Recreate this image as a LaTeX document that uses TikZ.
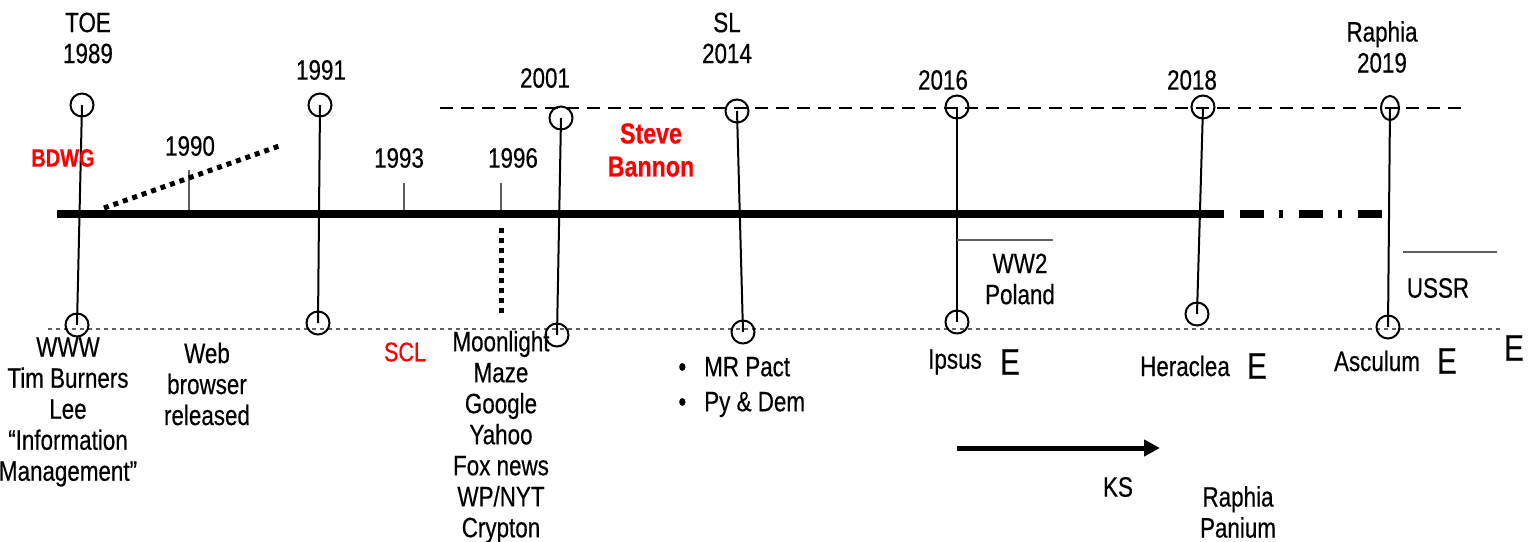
\documentclass[tikz,border=0pt]{standalone}
\usepackage{fontspec}
\setmainfont{Liberation Sans}[FakeStretch=0.8, FakeBold=0.4]
\usepackage{tikz}
\usetikzlibrary{arrows.meta, shapes.geometric}
\definecolor{hotred}{RGB}{255,0,0}
\definecolor{rulegray}{RGB}{95,95,95}

\begin{document}
\begin{tikzpicture}[x=0.5pt, y=-0.5pt,
  lbl/.style={font=\fontsize{14}{15.5}\selectfont, align=center, inner sep=0pt},
  redlbl/.style={lbl, text=hotred},
  bigE/.style={font=\fontsize{18.5}{20}\selectfont, inner sep=0pt},
  ring/.style={draw, circle, line width=1pt, minimum size=11.5pt, inner sep=0pt},
  stem/.style={line width=1pt},
  tick/.style={rulegray, line width=0.6pt},
  sqdots/.style={line width=2.5pt, dash pattern=on 2.5pt off 2.5pt}]
  \useasboundingbox (0,0) rectangle (1537,541);

  % guide lines
  \coordinate (up0) at (440,108);  \coordinate (up1) at (1462,108);
  \coordinate (lo0) at (48,329);   \coordinate (lo1) at (1500,329);
  \coordinate (ml0) at (57,214);   \coordinate (ml1) at (1220,214);
  \coordinate (ml2) at (1383,214);
  \draw[line width=0.75pt, dash pattern=on 6.5pt off 4pt] (up0) -- (up1);
  \draw[rulegray, line width=0.6pt, dash pattern=on 2pt off 2pt] (lo0) -- (lo1);

  % small year ticks
  \coordinate (tk90) at (189,170); \coordinate (tk93) at (404,183);
  \coordinate (tk96) at (501,183);
  \foreach \t in {tk90, tk93, tk96}
    \draw[tick] (\t) -- (\t |- ml0);
  \node[lbl] (y90) at (190,146) {1990};
  \node[lbl] (y93) at (399,158) {1993};
  \node[lbl] (y96) at (513,158) {1996};

  % main time line
  \draw[line width=4pt] (ml0) -- (ml1);
  \draw[line width=4pt, dash pattern=on 2pt off 8pt on 12pt off 7.5pt] (ml1) -- (ml2);

  % dotted offshoots
  \coordinate (ds0) at (104,208); \coordinate (ds1) at (282,145);
  \coordinate (dv0) at (501,228); \coordinate (dv1) at (501,315);
  \draw[sqdots] (ds0) -- (ds1);
  \draw[sqdots] (dv0) -- (dv1);

  % rings and stems
  \foreach \n/\xa/\ya/\xb/\yb in {89/82/105/77/325, 91/320/105/318/323,
      01/561/118/557/335, 14/737/111/743/332, 16/957/107/957/322,
      18/1203/107/1197/314} {
    \node[ring] (t\n) at (\xa,\ya) {};
    \node[ring] (b\n) at (\xb,\yb) {};
    \draw[stem] (t\n.center) -- (b\n.center);
  }
  \node[draw, ellipse, line width=1pt, minimum width=9pt, minimum height=12pt,
        inner sep=0pt] (t19) at (1390,108) {};
  \node[ring] (b19) at (1388,327) {};
  \draw[stem] (t19.center) -- (b19.center);

  % labels on top
  \node[lbl] (toe) at (88,38) {TOE\\1989};
  \node[lbl] (y91) at (321,70) {1991};
  \node[lbl] (y01) at (545,78) {2001};
  \node[lbl] (sl) at (727,38) {SL\\2014};
  \node[lbl] (y16) at (943,80) {2016};
  \node[lbl] (y18) at (1192,80) {2018};
  \node[lbl] (rap) at (1382,47) {Raphia\\2019};
  \node[redlbl, font=\bfseries\fontsize{12.5}{15}\selectfont] (bdwg) at (63,158) {BDWG};
  \node[redlbl, font=\bfseries\fontsize{14.5}{16.5}\selectfont] (bannon) at (651,150) {Steve\\Bannon};

  % side notes
  \coordinate (ww0) at (957,240); \coordinate (ww1) at (1053,240);
  \coordinate (us0) at (1403,252); \coordinate (us1) at (1497,252);
  \draw[tick] (ww0) -- (ww1);
  \draw[tick] (us0) -- (us1);
  \node[lbl] (ww2) at (1020,279) {WW2\\Poland};
  \node[lbl] (ussr) at (1438,288) {USSR};

  % labels below
  \node[lbl] (www) at (68,412) {WWW\\Tim Burners\\Lee\\``Information\\Management''};
  \node[lbl] (web) at (207,384) {Web\\browser\\released};
  \node[redlbl, font=\fontsize{13.5}{15}\selectfont] (scl) at (405,352) {SCL};
  \node[lbl] (moon) at (501,437) {Moonlight\\Maze\\Google\\Yahoo\\Fox news\\WP/NYT\\Crypton};
  \node[lbl, align=left, anchor=west] (pact) at (678,387)
    {\textbullet\hspace{9pt}MR Pact\\[2pt]\textbullet\hspace{9pt}Py \& Dem};
  \node[lbl] (ipsus) at (955,362) {Ipsus};
  \node[bigE] (e16) at (1010,362) {E};
  \node[lbl] (hera) at (1185,366) {Heraclea};
  \node[bigE] (e18) at (1257,366) {E};
  \node[lbl] (ascu) at (1377,361) {Asculum};
  \node[bigE] (e19) at (1447,361) {E};
  \node[bigE] (eend) at (1514,348) {E};

  % KS arrow
  \coordinate (ks0) at (957,448); \coordinate (ks1) at (1160,448);
  \draw[line width=2.5pt, -{Triangle[length=8pt, width=8pt]}] (ks0) -- (ks1);
  \node[lbl] (ks) at (1118,487) {KS};
  \node[lbl] (panium) at (1238,512) {Raphia\\Panium};
\end{tikzpicture}
\end{document}
